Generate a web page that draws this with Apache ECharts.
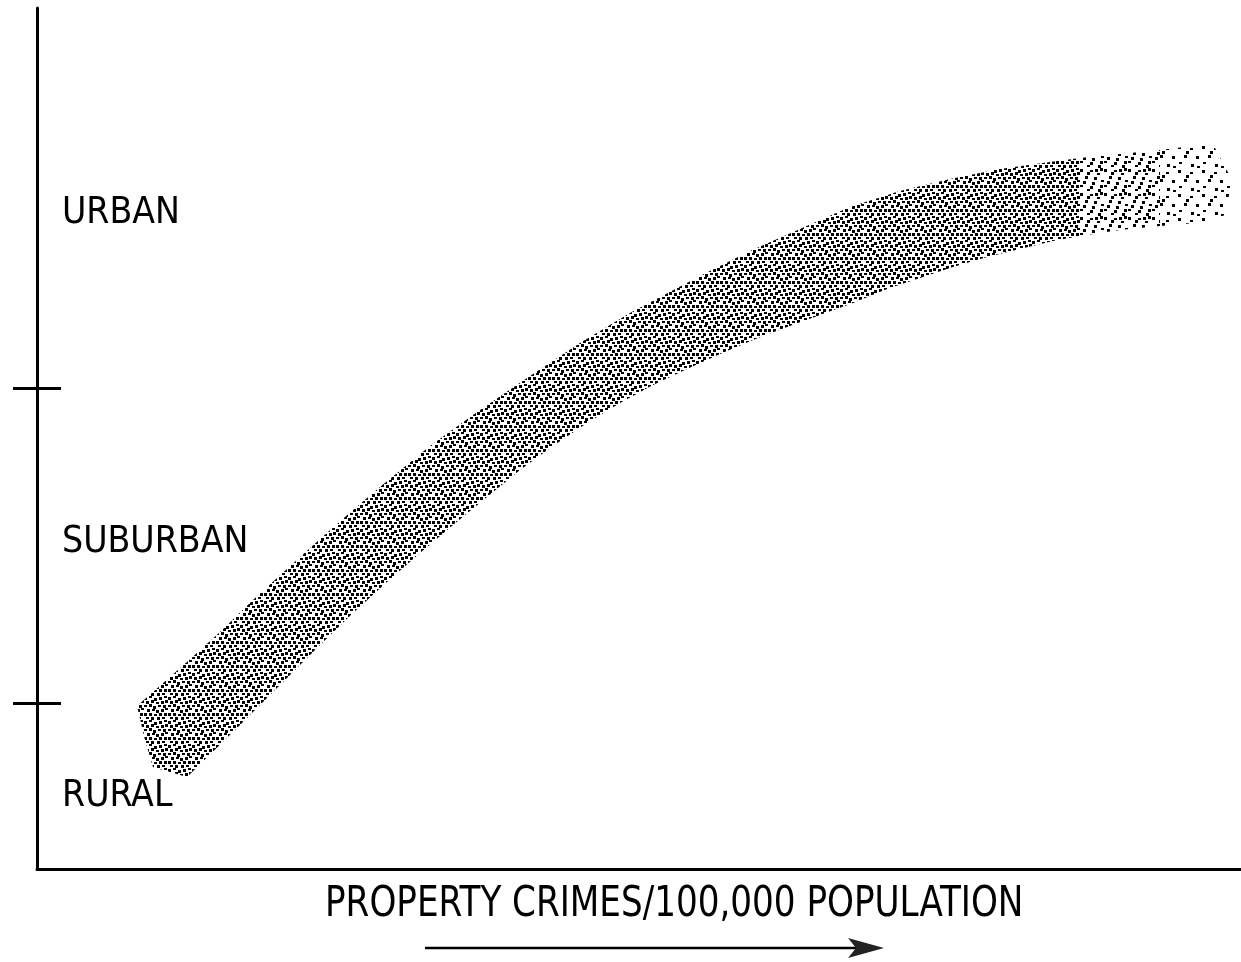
<!DOCTYPE html>
<html>
<head>
<meta charset="utf-8">
<script src="https://cdn.jsdelivr.net/npm/echarts@6/dist/echarts.min.js"></script>
<style>
    html, body { margin: 0; padding: 0; background: #fff; }
    #chart { width: 1241px; height: 962px; }
</style>
</head>
<body>
<div id="chart"></div>
<script>
// band edges (x = crime rate, y = urbanisation, arbitrary units)
const upperX = [100, 116, 150, 183, 216, 250, 283, 316, 343, 393, 443, 493, 543, 593, 663, 713, 763, 813, 863, 913, 963, 1013, 1043];
const upperY = [163, 177, 207, 237, 269, 300, 330, 359, 382, 423, 459, 493, 526, 556, 593, 618, 640, 662, 678, 690, 700, 707, 711];
const lowerX = [1043, 1016, 983, 950, 916, 883, 850, 816, 783, 750, 716, 683, 650, 616, 583, 550, 516, 483, 450, 416, 383, 350, 316, 283, 250, 200, 150, 133, 116, 108];
const lowerY = [633, 628, 620, 612, 602, 591, 580, 566, 554, 542, 529, 515, 500, 484, 466, 446, 423, 399, 372, 344, 316, 287, 256, 224, 191, 141, 92, 97, 102, 129];
// the band thins out towards its right end
const midX = [1043, 1073, 1123, 1123, 1083, 1043];
const midY = [711, 714, 719, 643, 639, 633];
const tipX = [1123, 1163, 1178, 1195, 1188, 1170, 1123];
const tipY = [719, 724, 721, 689, 654, 647, 643];

// zones on the vertical axis
const zoneNames = ['RURAL', 'SUBURBAN', 'URBAN'];
const zoneLabelPos = [73, 327, 656];
const zoneBounds = [166, 481];

const xTitle = 'PROPERTY CRIMES/100,000 POPULATION';
const FONT = "'DejaVu Sans Condensed', 'DejaVu Sans', sans-serif";

// stipple textures for the band
function makeStipple(dots, size) {
    const c = document.createElement('canvas');
    c.width = size; c.height = size;
    const ctx = c.getContext('2d');
    ctx.fillStyle = '#000';
    dots.forEach(([x, y], i) => {
        if (i % 3 === 1) ctx.fillRect(x, y, 3, 2);
        else ctx.fillRect(x, y, 3, 3);
    });
    return c;
}
const denseDots = [[0,1],[5,0],[10,2],[15,1],[20,0],[2,5],[7,4],[12,6],[17,5],[21,4],
                   [0,9],[5,8],[9,10],[14,9],[19,9],[3,13],[8,13],[12,14],[17,13],[21,12],
                   [0,17],[5,17],[10,18],[15,17],[20,17],[2,21],[7,21],[13,21],[18,21]];
const midDots = [[0,1],[10,2],[20,0],[7,4],[17,5],[5,8],[14,9],[21,12],[3,13],[12,14],
                 [0,17],[10,18],[20,17],[7,21],[18,21],[15,1]];
const sparseDots = [[2,2],[14,4],[8,11],[20,12],[3,18],[15,20],[10,7],[21,22]];
const stippleDense = makeStipple(denseDots, 24);
const stippleMid = makeStipple(midDots, 24);
const stippleSparse = makeStipple(sparseDots, 24);

function bandPolygon(api, xs, ys, img) {
    const pts = xs.map((x, i) => api.coord([x, ys[i]]));
    return { type: 'polygon', shape: { points: pts }, style: { fill: { image: img, repeat: 'repeat' } } };
}

let chart = echarts.init(document.getElementById('chart'));
let option = {
    backgroundColor: '#fff',
    animation: false,
    grid: { left: 37, right: 0, top: 8, bottom: 93 },
    xAxis: {
        type: 'value', min: 0, max: 1204,
        axisLine: { show: true, lineStyle: { color: '#000', width: 3 } },
        axisTick: { show: false },
        axisLabel: { show: false },
        splitLine: { show: false }
    },
    yAxis: [
        {
            type: 'value', min: 0, max: 861,
            axisLine: { show: true, lineStyle: { color: '#000', width: 3 } },
            axisTick: { show: true, customValues: zoneBounds, length: 24, lineStyle: { color: '#000', width: 3 } },
            axisLabel: { show: false },
            splitLine: { show: false }
        },
        {
            type: 'value', min: 0, max: 861, position: 'left',
            axisLine: { show: false },
            axisTick: { show: true, inside: true, customValues: zoneBounds, length: 24, lineStyle: { color: '#000', width: 3 } },
            axisLabel: {
                show: true, inside: true, margin: 25,
                customValues: zoneLabelPos,
                formatter: v => zoneNames[zoneLabelPos.indexOf(v)],
                color: '#000', fontSize: 37, fontFamily: FONT
            },
            splitLine: { show: false }
        }
    ],
    series: [
        {
            type: 'custom',
            data: [0, 1, 2],
            renderItem: function (params, api) {
                if (params.dataIndex === 0) {
                    return bandPolygon(api, upperX.concat(lowerX), upperY.concat(lowerY), stippleDense);
                }
                if (params.dataIndex === 1) {
                    return bandPolygon(api, midX, midY, stippleMid);
                }
                return bandPolygon(api, tipX, tipY, stippleSparse);
            }
        }
    ],
    graphic: [
        {
            type: 'text', x: 325, y: 884, scaleX: 0.905,
            style: { text: xTitle, fill: '#000', fontSize: 42, fontFamily: FONT, textVerticalAlign: 'top' }
        },
        {
            type: 'line',
            shape: { x1: 425, y1: 948, x2: 860, y2: 948 },
            style: { stroke: '#000', lineWidth: 2.5 }
        },
        {
            type: 'polygon',
            shape: { points: [[848, 938], [884, 948], [848, 958], [856, 948]] },
            style: { fill: '#222' }
        }
    ]
};
option && chart.setOption(option);
</script>
</body>
</html>
